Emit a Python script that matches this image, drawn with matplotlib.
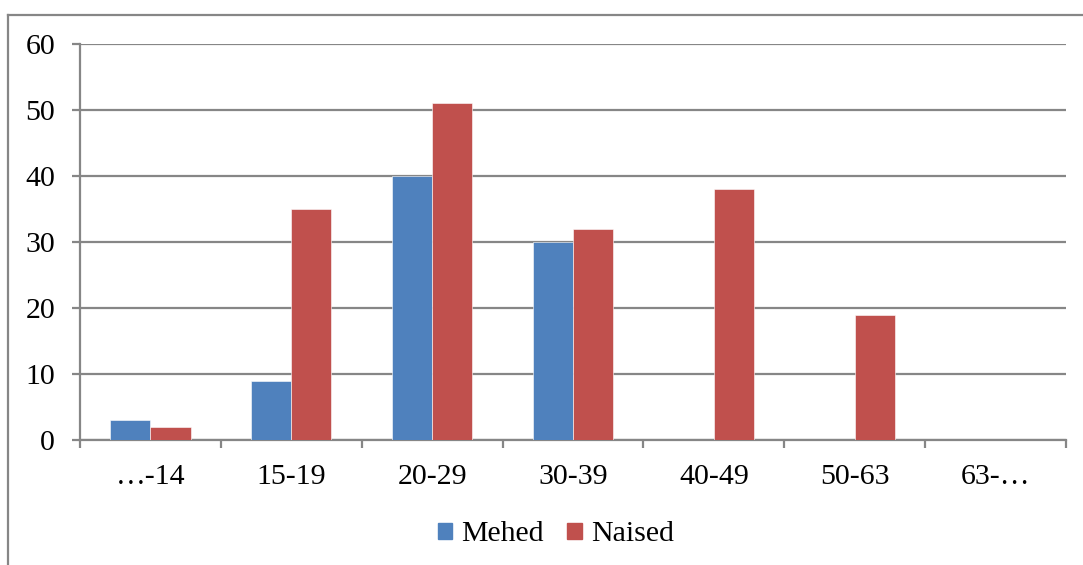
"""Grouped bar chart of counts per age group, Mehed vs Naised."""

import matplotlib.pyplot as plt
import numpy as np
from matplotlib.lines import Line2D
from matplotlib.patches import Patch

age_groups = ["\u2026-14", "15-19", "20-29", "30-39", "40-49", "50-63", "63-\u2026"]
mehed = [3, 9, 40, 30, 0, 0, 0]
naised = [2, 35, 51, 32, 38, 19, 0]
series_names = ["Mehed", "Naised"]

BLUE = "#4F81BD"
RED = "#C0504D"
GRID = "#868686"


def main() -> None:
    plt.rcParams["font.family"] = ["Liberation Serif", "DejaVu Serif"]
    plt.rcParams["font.size"] = 21.5

    fig = plt.figure(figsize=(10.83, 5.65), dpi=100)
    ax = fig.add_axes([0.0739, 0.2212, 0.9104, 0.7009])

    x = np.arange(len(age_groups))
    width = 0.285
    ax.bar(x - width / 2, mehed, width, color=BLUE, edgecolor="white", linewidth=0.4, zorder=3)
    ax.bar(x + width / 2, naised, width, color=RED, edgecolor="white", linewidth=0.4, zorder=3)

    ax.set_xlim(-0.5, len(age_groups) - 0.5)
    ax.set_ylim(0, 60)
    ax.set_yticks(range(0, 61, 10))
    ax.yaxis.grid(True, color=GRID, linewidth=1.6, zorder=0)
    ax.set_axisbelow(True)

    # category labels sit between boundary ticks
    ax.set_xticks(x)
    ax.set_xticklabels(age_groups)
    ax.set_xticks(np.arange(-0.5, len(age_groups)), minor=True)
    ax.tick_params(axis="x", which="major", length=0, pad=17)
    ax.tick_params(axis="x", which="minor", length=6, width=1.6, color=GRID)
    ax.tick_params(axis="y", length=6, width=1.6, color=GRID, pad=12)

    for side in ("top", "right"):
        ax.spines[side].set_visible(False)
    for side in ("left", "bottom"):
        ax.spines[side].set_color(GRID)
        ax.spines[side].set_linewidth(1.6)

    # outer chart frame (left and top edges)
    fig.add_artist(Line2D([0.0074, 0.0074], [0.0, 0.9735], color=GRID, linewidth=1.6,
                          transform=fig.transFigure))
    fig.add_artist(Line2D([0.0074, 1.0], [0.9735, 0.9735], color=GRID, linewidth=1.6,
                          transform=fig.transFigure))

    handles = [Patch(color=BLUE), Patch(color=RED)]
    fig.legend(handles, series_names, loc="center", bbox_to_anchor=(0.513, 0.054), ncol=2,
               frameon=False, handlelength=0.48, handleheight=0.48, handletextpad=0.3,
               columnspacing=0.8)

    fig.savefig("out.png", dpi=100)


if __name__ == "__main__":
    main()
